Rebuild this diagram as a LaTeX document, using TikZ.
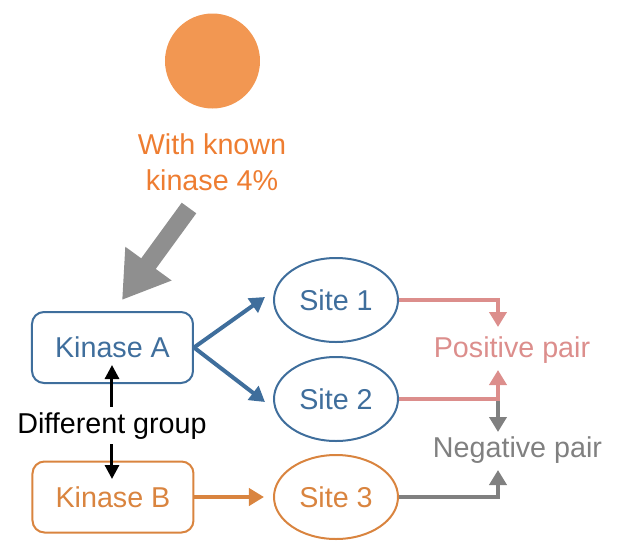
\documentclass[tikz,border=0pt]{standalone}
\usepackage{fontspec}
\setmainfont{Liberation Sans}
\usetikzlibrary{arrows.meta,shapes.geometric}
\definecolor{corange}{HTML}{EE7D31}
\definecolor{cfill}{HTML}{F29752}
\definecolor{cblue}{HTML}{3F6E9C}
\definecolor{cborange}{HTML}{D9843F}
\definecolor{cpink}{HTML}{DC8E8C}
\definecolor{cgray}{HTML}{808080}
\definecolor{cbig}{HTML}{8F8F8F}
\begin{document}
\begin{tikzpicture}[x=0.5pt,y=-0.5pt,
  font=\fontsize{14.35}{18.5}\selectfont,
  kbox/.style={draw, rounded corners=6pt, minimum width=80.5pt, minimum height=35.5pt, line width=1pt, inner sep=0},
  site/.style={draw, ellipse, minimum width=62pt, minimum height=42pt, line width=1pt, inner sep=0},
  flow/.style={line width=2pt, -{Triangle[width=8.5pt,length=7.5pt]}},
  lbl/.style={anchor=base, inner sep=0}
]
\useasboundingbox (0,0) rectangle (618,559);

% top circle and caption
\node[circle, fill=cfill, minimum size=47.5pt, inner sep=0] (dot) at (212.5,61) {};
\node[lbl, text=corange] (cap1) at (212,154) {With known};
\node[lbl, text=corange] (cap2) at (212,190) {kinase 4\%};

% big gray arrow
\coordinate (bigtail) at (189,208);
\coordinate (bigtip) at (122,300);
\draw[cbig, line width=9pt, -{Triangle[width=27pt,length=22.5pt]}] (bigtail) -- (bigtip);

% kinases
\node[kbox, draw=cblue, text=cblue] (ka) at (112.5,347.5) {Kinase A};
\node[kbox, draw=cborange, text=cborange] (kb) at (113,497) {Kinase B};

% sites
\node[site, draw=cblue, text=cblue] (s1) at (336,300) {Site 1};
\node[site, draw=cblue, text=cblue] (s2) at (336,399) {Site 2};
\node[site, draw=cborange, text=cborange] (s3) at (336,497) {Site 3};

% kinase -> site arrows
\draw[flow, cblue] (ka.east) -- ([xshift=-4pt,yshift=1.5pt]s1.west);
\draw[flow, cblue] (ka.east) -- ([xshift=-4pt,yshift=-1.5pt]s2.west);
\draw[flow, cborange] (kb.east) -- ([xshift=-4.5pt]s3.west);

% different group double arrow
\coordinate (dgtop) at (112,365);
\coordinate (dgbot) at (112,479);
\draw[line width=1.5pt, {Triangle[width=7pt,length=7pt]}-{Triangle[width=7pt,length=7pt]}] (dgtop) -- (dgbot);
\node[anchor=base, fill=white, inner xsep=0pt, inner ysep=2.5pt] (dg) at (112,433) {Different group};

% pair labels
\node[lbl, text=cpink] (pos) at (512,357) {Positive pair};
\node[lbl, text=cgray] (neg) at (517.5,457) {Negative pair};

\coordinate (p1) at (498,327);
\coordinate (p2) at (498,370);
\coordinate (junc) at (498,399);
\coordinate (n1) at (498,432);
\coordinate (n2) at (498,470);

\draw[flow, cpink] (s1.east) -| (p1);
\draw[flow, cgray] (junc) -- (n1);
\draw[flow, cpink] (s2.east) -| (p2);
\draw[flow, cgray] (s3.east) -| (n2);
\end{tikzpicture}
\end{document}
